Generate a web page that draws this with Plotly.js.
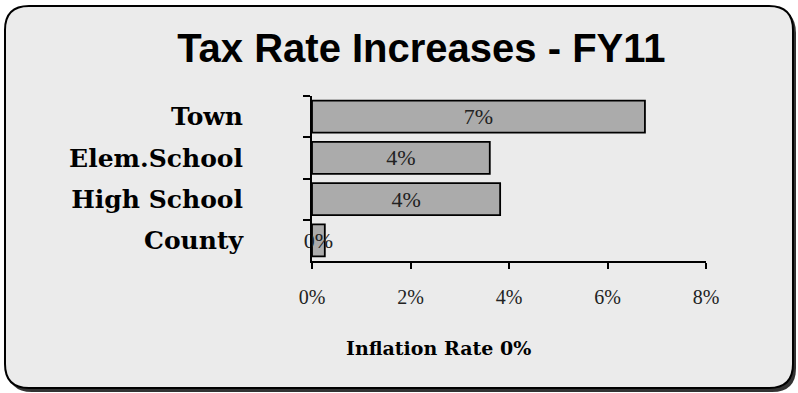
<!DOCTYPE html>
<html><head><meta charset="utf-8">
<script src="https://cdn.plot.ly/plotly-3.0.1.min.js"></script>
<style>html,body{margin:0;padding:0;background:#fff}#chart{width:798px;height:393px}</style>
</head><body><div id="chart"></div>
<script>
const categories = ["Town", "Elem.School", "High School", "County"];
const rates = [6.76, 3.61, 3.82, 0.26];
const barLabels = ["7%", "4%", "4%", "0%"];
const xTickVals = [0, 2, 4, 6, 8];
const xTickText = ["0%", "2%", "4%", "6%", "8%"];
const chartTitle = "Tax Rate Increases - FY11";
const axisNote = "Inflation Rate 0%";

const W = 798, H = 393;
const ML = 312, MR = 92, MT = 96, MB = 132;
const plotW = W - ML - MR, plotH = H - MT - MB;
function pxp(x){return (x-ML)/plotW;} function pyp(y){return (H-MB-y)/plotH;}
function rrPlotPaper(x0,y0,x1,y1,r){
  const X=v=>pxp(v).toFixed(5), Y=v=>pyp(v).toFixed(5);
  return `M${X(x0+r)},${Y(y0)} L${X(x1-r)},${Y(y0)} Q${X(x1)},${Y(y0)} ${X(x1)},${Y(y0+r)} L${X(x1)},${Y(y1-r)} Q${X(x1)},${Y(y1)} ${X(x1-r)},${Y(y1)} L${X(x0+r)},${Y(y1)} Q${X(x0)},${Y(y1)} ${X(x0)},${Y(y1-r)} L${X(x0)},${Y(y0+r)} Q${X(x0)},${Y(y0)} ${X(x0+r)},${Y(y0)} Z`;
}

const serif = "DejaVu Serif, Liberation Serif, serif";
const trace = {
  type: "bar", orientation: "h",
  y: categories, x: rates,
  text: barLabels, textposition: "inside", insidetextanchor: "middle", textangle: 0,
  constraintext: "none", cliponaxis: false,
  insidetextfont: {family: "Liberation Serif, serif", size: 22, color: "#222"},
  marker: {color: "#ababab", line: {color: "#000", width: 1.8}},
  hoverinfo: "none"
};

const layout = {
  width: W, height: H,
  paper_bgcolor: "#ffffff", plot_bgcolor: "rgba(0,0,0,0)",
  margin: {l: ML, r: MR, t: MT, b: MB},
  showlegend: false,
  bargap: 0.22,
  title: {text: "<b>" + chartTitle + "</b>", x: 0.528, xanchor: "center", y: 0.877, yanchor: "middle",
    font: {family: "Liberation Sans Narrow, Liberation Sans, sans-serif", size: 40, color: "#000"}},
  xaxis: {range: [0, 8], tickvals: xTickVals, ticktext: xTickText,
    showline: true, linecolor: "#000", linewidth: 2, ticks: "outside", ticklen: 6, tickcolor: "#000", tickwidth: 2,
    showgrid: false, zeroline: false, ticklabelstandoff: 11,
    tickfont: {family: "Liberation Serif, serif", size: 20, color: "#222"}, fixedrange: true},
  yaxis: {type: "category", categoryorder: "array", categoryarray: categories, autorange: "reversed",
    showline: true, linecolor: "#000", linewidth: 2, ticks: "outside", ticklen: 7, tickcolor: "#000", tickwidth: 2,
    tickson: "boundaries", showgrid: false, zeroline: false, ticklabelstandoff: 62,
    tickfont: {family: serif, size: 25, color: "#000", weight: "bold"}, fixedrange: true},
  shapes: [
    {type: "path", xref: "paper", yref: "paper", layer: "below", path: rrPlotPaper(8, 9, 796, 392, 24),
      fillcolor: "#333", line: {width: 0}},
    {type: "path", xref: "paper", yref: "paper", layer: "below", path: rrPlotPaper(5, 6, 793, 388, 24),
      fillcolor: "#ebebeb", line: {color: "#000", width: 2}}
  ],
  annotations: [
    {xref: "paper", yref: "paper", x: pxp(438), y: pyp(348), xanchor: "center", yanchor: "middle",
      text: "<b>" + axisNote + "</b>", showarrow: false,
      font: {family: serif, size: 19, color: "#000"}}
  ]
};

Plotly.newPlot("chart", [trace], layout, {staticPlot: true, displayModeBar: false});
</script></body></html>
